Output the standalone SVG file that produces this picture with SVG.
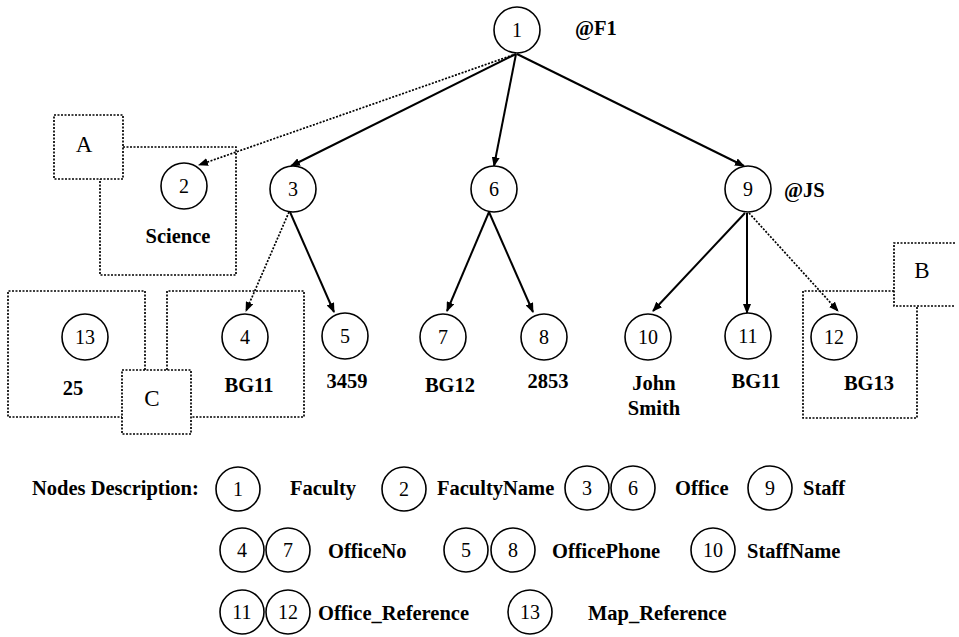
<svg xmlns="http://www.w3.org/2000/svg" width="959" height="637" viewBox="0 0 959 637">
<style>
.c{fill:#fff;stroke:#000;stroke-width:1.6}
.n{font-family:"Liberation Serif","Times New Roman",serif;font-size:20px;text-anchor:middle;fill:#000}
.l{font-family:"Liberation Serif","Times New Roman",serif;font-size:20.5px;font-weight:bold;fill:#000}
.lc{text-anchor:middle}
.big{font-family:"Liberation Serif","Times New Roman",serif;font-size:23px;text-anchor:middle;fill:#000}
.s{stroke:#000;stroke-width:2;fill:none;marker-end:url(#ah)}
.d{stroke:#000;stroke-width:1.7;stroke-dasharray:2 1.5;fill:none;marker-end:url(#ah)}
.b{stroke:#000;stroke-width:1.7;stroke-dasharray:2 1.5;fill:none}
</style>
<defs>
<marker id="ah" markerUnits="userSpaceOnUse" markerWidth="10" markerHeight="8" refX="9" refY="4" orient="auto">
<path d="M0,0 L10,4 L0,8 z" fill="#000"/>
</marker>
</defs>
<rect width="959" height="637" fill="#fff"/>
<g id="boxes">
<rect class="b" x="54" y="115" width="69" height="64"/>
<text class="big" x="84" y="152">A</text>
<path class="b" d="M123,147 H236 V275 H100 V179"/>
<path class="b" d="M145,370 V291 H8 V417 H122"/>
<rect class="b" x="122" y="370" width="69" height="64"/>
<text class="big" x="152" y="406">C</text>
<path class="b" d="M167,370 V291 H304 V417 H191"/>
<path class="b" d="M955,243 H894 V306 H955"/>
<text class="big" x="922" y="278">B</text>
<path class="b" d="M894,291 H803 V418 H917 V306"/>
</g>
<g id="connectors">
<line class="d" x1="513" y1="55" x2="199" y2="165"/>
<line class="s" x1="516" y1="54" x2="291" y2="166"/>
<line class="s" x1="516" y1="54" x2="494" y2="166"/>
<line class="s" x1="517" y1="54" x2="744" y2="166"/>
<line class="d" x1="289" y1="212" x2="246" y2="311"/>
<line class="s" x1="290" y1="212" x2="334" y2="312"/>
<line class="s" x1="489" y1="212" x2="447" y2="311"/>
<line class="s" x1="489" y1="212" x2="533" y2="312"/>
<line class="s" x1="745" y1="213" x2="653" y2="311"/>
<line class="s" x1="747" y1="213" x2="747" y2="313"/>
<line class="d" x1="749" y1="213" x2="838" y2="311"/>
</g>
<g id="node1"><circle class="c" cx="517" cy="30" r="23"/><text class="n" x="517" y="37">1</text><text class="l" x="575" y="35">@F1</text></g>
<g id="node2"><circle class="c" cx="184" cy="186" r="23"/><text class="n" x="184" y="193">2</text><text class="l lc" x="178" y="243">Science</text></g>
<g id="node3"><circle class="c" cx="293" cy="189" r="23"/><text class="n" x="293" y="196">3</text></g>
<g id="node6"><circle class="c" cx="494" cy="189" r="23"/><text class="n" x="494" y="196">6</text></g>
<g id="node9"><circle class="c" cx="748" cy="189" r="23"/><text class="n" x="748" y="196">9</text><text class="l" x="784" y="197">@JS</text></g>
<g id="node13"><circle class="c" cx="85" cy="337" r="23"/><text class="n" x="85" y="344">13</text><text class="l lc" x="73" y="395">25</text></g>
<g id="node4"><circle class="c" cx="245" cy="337" r="23"/><text class="n" x="245" y="344">4</text><text class="l lc" x="249" y="392">BG11</text></g>
<g id="node5"><circle class="c" cx="345" cy="336" r="23"/><text class="n" x="345" y="343">5</text><text class="l lc" x="347" y="388">3459</text></g>
<g id="node7"><circle class="c" cx="443" cy="337" r="23"/><text class="n" x="443" y="344">7</text><text class="l lc" x="450" y="392">BG12</text></g>
<g id="node8"><circle class="c" cx="544" cy="337" r="23"/><text class="n" x="544" y="344">8</text><text class="l lc" x="548" y="388">2853</text></g>
<g id="node10"><circle class="c" cx="648" cy="337" r="23"/><text class="n" x="648" y="344">10</text><text class="l lc" x="654" y="390">John</text><text class="l lc" x="654" y="415">Smith</text></g>
<g id="node11"><circle class="c" cx="748" cy="336" r="23"/><text class="n" x="748" y="343">11</text><text class="l lc" x="756" y="388">BG11</text></g>
<g id="node12"><circle class="c" cx="834" cy="337" r="23"/><text class="n" x="834" y="344">12</text><text class="l lc" x="869" y="390">BG13</text></g>
<g id="legend">
<text class="l" x="32" y="495">Nodes Description:</text>
<circle class="c" cx="238" cy="489" r="22"/><text class="n" x="238" y="496">1</text>
<text class="l" x="290" y="495">Faculty</text>
<circle class="c" cx="404" cy="489" r="22"/><text class="n" x="404" y="496">2</text>
<text class="l" x="437" y="495">FacultyName</text>
<circle class="c" cx="587" cy="488" r="22"/><circle class="c" cx="633" cy="488" r="22" style="fill:none"/>
<text class="n" x="587" y="495">3</text><text class="n" x="633" y="495">6</text>
<text class="l" x="675" y="495">Office</text>
<circle class="c" cx="770" cy="488" r="22"/><text class="n" x="770" y="495">9</text>
<text class="l" x="803" y="495">Staff</text>
<circle class="c" cx="242" cy="550" r="22"/><circle class="c" cx="288" cy="550" r="22" style="fill:none"/>
<text class="n" x="242" y="557">4</text><text class="n" x="288" y="557">7</text>
<text class="l" x="328" y="558">OfficeNo</text>
<circle class="c" cx="466" cy="550" r="22"/><circle class="c" cx="513" cy="550" r="22" style="fill:none"/>
<text class="n" x="466" y="557">5</text><text class="n" x="513" y="557">8</text>
<text class="l" x="552" y="558">OfficePhone</text>
<circle class="c" cx="713" cy="550" r="22"/><text class="n" x="713" y="557">10</text>
<text class="l" x="747" y="558">StaffName</text>
<circle class="c" cx="242" cy="612" r="22"/><circle class="c" cx="288" cy="612" r="22" style="fill:none"/>
<text class="n" x="242" y="619">11</text><text class="n" x="288" y="619">12</text>
<text class="l" x="318" y="620">Office_Reference</text>
<circle class="c" cx="530" cy="612" r="22"/><text class="n" x="530" y="619">13</text>
<text class="l" x="588" y="620">Map_Reference</text>
</g>
</svg>
